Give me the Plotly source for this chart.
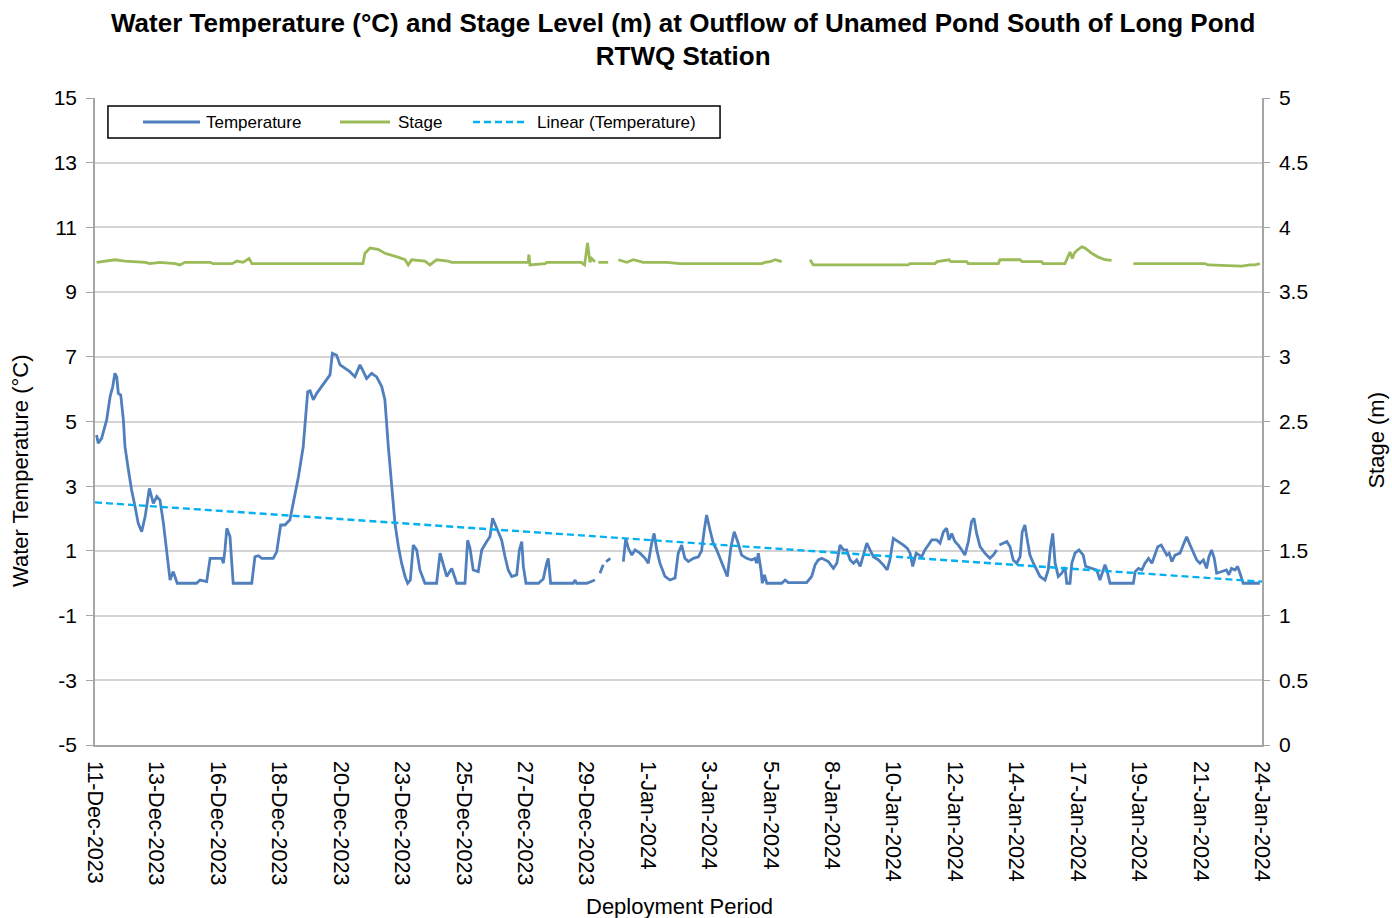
import pandas as pd
import plotly.graph_objects as go

# ---------------- data ----------------
# time = days since 11-Dec-2023 00:00 ; None = missing data (gap)
temp_day = [0.50, 0.56, 0.69, 0.88, 1.01, 1.11, 1.19, 1.26, 1.32, 1.41, 1.51, 1.57, 1.70, 1.82, 1.95, 2.07,
            2.20, 2.33, 2.49, 2.64, 2.77, 2.89, 3.02, 3.14, 3.27, 3.39, 3.54, 4.27, 4.40, 4.65, 4.78, 5.22,
            5.28, 5.34, 5.41, 5.53, 5.65, 6.35, 6.47, 6.60, 6.73, 7.16, 7.29, 7.44, 7.60, 7.79, 7.92, 8.11,
            8.29, 8.38, 8.46, 8.55, 8.67, 8.80, 8.99, 9.18, 9.30, 9.39, 9.55, 9.68, 9.87, 10.05, 10.24, 10.43,
            10.56, 10.68, 10.87, 11.06, 11.25, 11.37, 11.50, 11.63, 11.75, 11.88, 12.00, 12.13, 12.23, 12.33,
            12.44, 12.57, 12.69, 12.88, 13.32, 13.45, 13.57, 13.70, 13.89, 14.01, 14.08, 14.39, 14.49, 14.58,
            14.70, 14.89, 15.02, 15.21, 15.33, 15.43, 15.59, 15.77, 15.90, 16.02, 16.15, 16.34, 16.44, 16.53,
            16.59, 16.69, 17.16, 17.34, 17.47, 17.53, 17.62, 18.47, 18.54, 18.60, 18.98, 19.29, 19.38,
            19.48, 19.60, 19.65, 19.71, 19.87, 20.10,
            20.36, 20.45, 20.55, 20.68, 20.80, 20.99, 21.18, 21.30, 21.43, 21.52, 21.62, 21.74, 21.93, 22.12,
            22.31, 22.43, 22.56, 22.68, 22.81, 23.00, 23.19, 23.31, 23.41, 23.50, 23.63, 23.75, 23.88, 24.00,
            24.13, 24.28, 24.42, 24.54, 24.67, 24.82, 25.01, 25.20, 25.32, 25.39, 25.45, 25.55, 25.60, 25.68,
            25.77, 26.33, 26.46, 26.58, 27.27, 27.46, 27.59, 27.71, 27.84, 28.09, 28.28, 28.41, 28.53, 28.66,
            28.78, 28.91, 29.04, 29.16, 29.29, 29.41, 29.54, 29.66, 29.79, 29.98, 30.16, 30.31, 30.41, 30.54,
            30.73, 30.92, 31.07, 31.17, 31.27, 31.40, 31.61, 31.73, 31.86, 31.99, 32.18, 32.30, 32.43, 32.55,
            32.64, 32.74, 32.86, 32.99, 33.12, 33.24, 33.37, 33.49, 33.58, 33.68, 33.81, 33.99, 34.18, 34.31,
            34.44, 34.49,
            34.54, 34.69, 34.82, 34.94, 35.06, 35.19, 35.32, 35.40, 35.50, 35.59, 35.69, 35.82, 35.94, 36.07,
            36.26, 36.38, 36.47, 36.55, 36.64, 36.76, 36.89, 37.01, 37.08, 37.20, 37.27, 37.39, 37.54, 37.70,
            37.79, 38.02, 38.21, 38.33, 38.42, 38.52, 38.59, 38.71, 39.59, 39.66, 39.78, 39.91, 40.03, 40.16,
            40.29, 40.41, 40.51, 40.64, 40.76, 40.85, 40.94, 41.04, 41.16, 41.35, 41.47, 41.60, 41.73, 41.85,
            41.98, 42.10, 42.23, 42.35, 42.44, 42.54, 42.64, 42.73, 42.92, 43.10, 43.19, 43.29, 43.42, 43.52,
            43.61, 43.73, 44.36]

temperature = [4.58, 4.33, 4.48, 5.05, 5.77, 6.08, 6.49, 6.38, 5.87, 5.82, 5.05, 4.22, 3.50, 2.88, 2.37, 1.85,
               1.59, 2.06, 2.93, 2.47, 2.68, 2.57, 1.85, 0.93, 0.10, 0.36, 0.00, 0.00, 0.10, 0.05, 0.77, 0.77,
               0.62, 1.03, 1.70, 1.44, 0.00, 0.00, 0.82, 0.85, 0.77, 0.77, 0.97, 1.80, 1.80, 1.96, 2.47, 3.29,
               4.22, 5.25, 5.92, 5.95, 5.67, 5.87, 6.08, 6.28, 6.44, 7.11, 7.05, 6.75, 6.64, 6.54, 6.38, 6.75,
               6.54, 6.33, 6.49, 6.38, 6.08, 5.67, 4.22, 2.88, 1.85, 1.13, 0.62, 0.21, 0.00, 0.10,
               1.18, 1.03, 0.41, 0.00, 0.00, 0.93, 0.62, 0.21, 0.46, 0.20, 0.00, 0.00, 1.33, 1.08,
               0.41, 0.36, 1.03, 1.29, 1.44, 2.01, 1.70, 1.34, 0.82, 0.41, 0.21, 0.26, 1.03, 1.29,
               0.52, 0.00, 0.00, 0.13, 0.62, 0.77, 0.00, 0.00, 0.10, 0.00, 0.00, 0.10, None,
               0.31, 0.57, None, 0.67, 0.77, None,
               0.67, 1.39, 1.08, 0.87, 1.03, 0.93, 0.77, 0.62, 1.24, 1.54, 1.03, 0.62, 0.21, 0.10,
               0.16, 0.93, 1.18, 0.77, 0.67, 0.77, 0.82, 1.00, 1.64, 2.11, 1.64, 1.24, 1.03, 0.77,
               0.52, 0.21, 1.13, 1.59, 1.29, 0.87, 0.77, 0.72, 0.77, 0.62, 0.93, 0.41, 0.00, 0.26,
               0.00, 0.00, 0.10, 0.02, 0.02, 0.21, 0.57, 0.72, 0.77, 0.67, 0.46, 0.62, 1.18, 1.03,
               1.03, 0.72, 0.62, 0.72, 0.52, 0.87, 1.24, 1.03, 0.82, 0.72, 0.57, 0.41, 0.72, 1.39,
               1.29, 1.18, 1.08, 0.93, 0.52, 0.93, 0.82, 1.03, 1.18, 1.34, 1.34, 1.24, 1.59, 1.70,
               1.34, 1.54, 1.29, 1.18, 1.03, 0.87, 1.29, 1.91, 2.01, 1.54, 1.13, 0.93, 0.77, 0.87,
               1.03, None,
               1.18, 1.24, 1.29, 1.13, 0.72, 0.62, 0.82, 1.59, 1.80, 1.34, 0.87, 0.62, 0.41, 0.21,
               0.10, 0.41, 1.13, 1.54, 0.62, 0.21, 0.31, 0.50, 0.00, 0.00, 0.62, 0.93, 1.03, 0.87,
               0.52, 0.46, 0.41, 0.10, 0.31, 0.57, 0.41, 0.00, 0.00, 0.36, 0.46, 0.41, 0.62, 0.77,
               0.62, 0.87, 1.13, 1.18, 0.98, 0.87, 0.93, 0.67, 0.87, 0.93, 1.18, 1.44, 1.18, 0.93,
               0.72, 0.62, 0.72, 0.46, 0.82, 1.03, 0.77, 0.31, 0.36, 0.41, 0.26, 0.46, 0.41, 0.52,
               0.31, 0.00, 0.00]

stage_day = [0.50, 0.93, 1.19, 1.57, 2.33, 2.51, 2.89, 3.46, 3.64, 3.83, 4.78, 4.89, 5.61, 5.79, 6.02, 6.25,
             6.36, 7.79, 10.54, 10.62, 10.81, 11.11, 11.37, 11.86, 12.13, 12.25, 12.38, 12.88, 13.07, 13.32,
             13.75, 13.89, 16.77, 16.80, 16.84, 17.41, 17.48, 18.77, 18.90, 19.01, 19.10, 19.16, 19.29, 19.35,
             19.42, 19.79, 19.98,
             20.17, 20.49, 20.74, 21.11, 22.00, 22.50, 25.58, 25.70, 25.89, 26.08, 26.33, 26.90,
             27.40, 27.52, 31.10, 31.17, 32.11, 32.19, 32.64, 32.71, 33.31, 33.36, 34.50, 34.56, 35.32, 35.39,
             36.13, 36.18, 37.01, 37.13, 37.20, 37.29, 37.36, 37.45, 37.64, 37.77, 38.02, 38.27, 38.52, 38.77,
             39.20,
             39.59, 42.29, 42.41, 43.67, 43.99, 44.18, 44.36]

stage = [3.73, 3.74, 3.75, 3.74, 3.73, 3.72, 3.73, 3.72, 3.71, 3.73, 3.73, 3.72, 3.72, 3.74, 3.73, 3.76,
         3.72, 3.72, 3.72, 3.80, 3.84, 3.83, 3.80, 3.77, 3.75, 3.71, 3.75, 3.74, 3.71, 3.75,
         3.74, 3.73, 3.73, 3.79, 3.71, 3.72, 3.73, 3.73, 3.71, 3.88, 3.73, 3.76, 3.735, None,
         3.73, 3.73, None,
         3.75, 3.73, 3.75, 3.73, 3.73, 3.72, 3.72, 3.73, 3.735, 3.75, 3.735, None,
         3.75, 3.71, 3.71, 3.72, 3.72, 3.735, 3.75, 3.735, 3.735, 3.72, 3.72, 3.75, 3.75, 3.735,
         3.735, 3.72, 3.72, 3.77, 3.81, 3.76, 3.80, 3.82, 3.85, 3.84, 3.80, 3.77, 3.75, 3.745,
         None,
         3.72, 3.72, 3.71, 3.70, 3.71, 3.71, 3.72]

# linear trendline of temperature (end values)
trend_day = [0.44, 44.44]
trend_temp = [2.50, 0.05]

tick_labels = ["11-Dec-2023", "13-Dec-2023", "16-Dec-2023", "18-Dec-2023", "20-Dec-2023", "23-Dec-2023",
               "25-Dec-2023", "27-Dec-2023", "29-Dec-2023", "1-Jan-2024", "3-Jan-2024", "5-Jan-2024",
               "8-Jan-2024", "10-Jan-2024", "12-Jan-2024", "14-Jan-2024", "17-Jan-2024", "19-Jan-2024",
               "21-Jan-2024", "24-Jan-2024"]
temp_ticks = [-5, -3, -1, 1, 3, 5, 7, 9, 11, 13, 15]
temp_tick_labels = ["-5", "-3", "-1", "1", "3", "5", "7", "9", "11", "13", "15"]
series_names = ["Temperature", "Stage", "Linear (Temperature)"]

axis_start_day = 0.44
axis_span_days = 44

# ---------------- build ----------------
base = pd.Timestamp("2023-12-11")


def to_dt(days):
    return [base + pd.Timedelta(days=d) for d in days]


x_start = base + pd.Timedelta(days=axis_start_day)
x_end = x_start + pd.Timedelta(days=axis_span_days)
step = axis_span_days / (len(tick_labels) - 1)
tick_vals = [x_start + pd.Timedelta(days=k * step) for k in range(len(tick_labels))]

FONT = "Liberation Sans, Arial, sans-serif"
BLUE = "#4F7FBD"
GREEN = "#9BBB59"
CYAN = "#00B0F0"
AXIS = "#A6A6A6"
DASH = "7px,4px"

fig = go.Figure()
fig.add_trace(go.Scatter(x=to_dt(temp_day), y=temperature, mode="lines", name=series_names[0],
                         line=dict(color=BLUE, width=2.8), connectgaps=False))
fig.add_trace(go.Scatter(x=to_dt(stage_day), y=stage, mode="lines", name=series_names[1],
                         line=dict(color=GREEN, width=2.8), connectgaps=False, yaxis="y2"))
fig.add_trace(go.Scatter(x=to_dt(trend_day), y=trend_temp, mode="lines", name=series_names[2],
                         line=dict(color=CYAN, width=2.4, dash=DASH)))

# legend box drawn in paper coordinates (Excel-style legend layout)
legend_shapes = [
    dict(type="rect", xref="paper", yref="paper", x0=0.0111, x1=0.5356, y0=0.9382, y1=0.9876,
         line=dict(color="#000000", width=1.5), fillcolor="white", layer="above"),
    dict(type="line", xref="paper", yref="paper", x0=0.0411, x1=0.0900, y0=0.9629, y1=0.9629,
         line=dict(color=BLUE, width=2.8), layer="above"),
    dict(type="line", xref="paper", yref="paper", x0=0.2099, x1=0.2528, y0=0.9629, y1=0.9629,
         line=dict(color=GREEN, width=2.8), layer="above"),
    dict(type="line", xref="paper", yref="paper", x0=0.3239, x1=0.3685, y0=0.9629, y1=0.9629,
         line=dict(color=CYAN, width=2.4, dash=DASH), layer="above"),
]
legend_text_x = [0.0934, 0.2579, 0.3770]
legend_annots = [dict(text=n, xref="paper", yref="paper", x=tx, y=0.9629, xanchor="left",
                      yanchor="middle", showarrow=False, font=dict(size=17, family=FONT))
                 for n, tx in zip(series_names, legend_text_x)]

fig.update_layout(
    width=1392, height=918,
    margin=dict(l=95, r=130, t=98, b=173, autoexpand=False),
    paper_bgcolor="white", plot_bgcolor="white",
    font=dict(family=FONT, color="#000000"),
    title=dict(text="<b>Water Temperature (°C) and Stage Level (m) at Outflow of Unamed Pond South of Long Pond<br>RTWQ Station</b>",
               xref="paper", x=0.504, xanchor="center", yref="container", y=0.9655, yanchor="middle",
               font=dict(size=26, family=FONT, color="#000000")),
    showlegend=False,
    shapes=legend_shapes,
    xaxis=dict(range=[x_start, x_end], tickmode="array", tickvals=tick_vals, ticktext=tick_labels,
               tickangle=90, tickfont=dict(size=21.5), showgrid=False, showline=True,
               linecolor=AXIS, linewidth=1.5, ticks="", zeroline=False, ticklabelstandoff=10),
    yaxis=dict(range=[-5, 15], tickmode="array", tickvals=temp_ticks, ticktext=temp_tick_labels,
               tickfont=dict(size=21), showgrid=True,
               gridcolor="#D4D4D4", gridwidth=1.5, showline=True, linecolor=AXIS, linewidth=1.5,
               ticks="outside", ticklen=7, tickcolor=AXIS, zeroline=False, ticklabelstandoff=5),
    yaxis2=dict(range=[0, 5], dtick=0.5, overlaying="y", side="right", tickfont=dict(size=21),
                showgrid=False, showline=True, linecolor=AXIS, linewidth=1.5,
                ticks="outside", ticklen=6, tickcolor=AXIS, zeroline=False, ticklabelstandoff=5),
    annotations=legend_annots + [
        dict(text="Water Temperature (°C)", textangle=-90, xref="paper", yref="paper",
             x=-0.0643, y=0.425, xanchor="center", yanchor="middle", showarrow=False,
             font=dict(size=22, family=FONT)),
        dict(text="Stage (m)", textangle=-90, xref="paper", yref="paper",
             x=1.0985, y=0.472, xanchor="center", yanchor="middle", showarrow=False,
             font=dict(size=22, family=FONT)),
        dict(text="Deployment Period", xref="paper", yref="paper",
             x=0.501, y=-0.249, xanchor="center", yanchor="middle", showarrow=False,
             font=dict(size=22, family=FONT)),
    ],
)

fig.write_html("out.html", config={"displayModeBar": False},
               post_script="document.body.style.margin='0px';")
